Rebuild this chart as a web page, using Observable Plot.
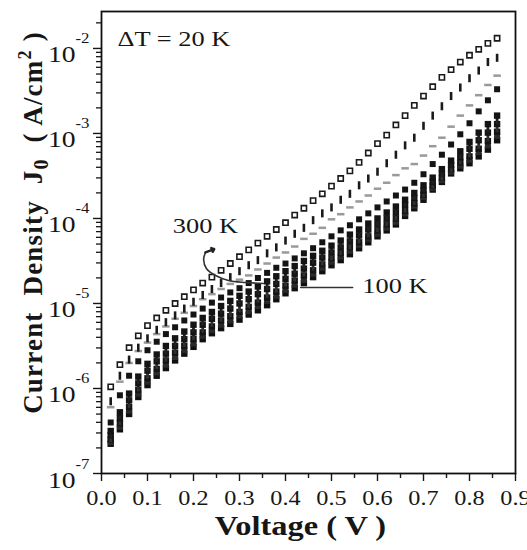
<!DOCTYPE html>
<html><head><meta charset="utf-8">
<script src="https://cdn.jsdelivr.net/npm/d3@7"></script>
<script src="https://cdn.jsdelivr.net/npm/@observablehq/plot@0.6"></script>
<style>
html,body{margin:0;padding:0;background:#fff;}
#chart{width:527px;height:550px;overflow:hidden;}
</style></head><body><div id="chart"></div>
<script>
// ---- data (log10 of current density J0 in A/cm^2) ----
const voltages = [0.02,0.04,0.06,0.08,0.10,0.12,0.14,0.16,0.18,0.20,0.22,0.24,0.26,0.28,0.30,0.32,0.34,0.36,0.38,0.40,0.42,0.44,0.46,0.48,0.50,0.52,0.54,0.56,0.58,0.60,0.62,0.64,0.66,0.68,0.70,0.72,0.74,0.76,0.78,0.80,0.82,0.84,0.86];
const temperatures = [300,280,260,240,220,200,180,160,140,120,100];
const logJ_300K = [-5.98,-5.72,-5.52,-5.38,-5.26,-5.17,-5.08,-5.00,-4.92,-4.84,-4.76,-4.69,-4.61,-4.53,-4.45,-4.37,-4.29,-4.21,-4.13,-4.05,-3.96,-3.88,-3.79,-3.71,-3.62,-3.53,-3.44,-3.34,-3.23,-3.12,-3.02,-2.90,-2.79,-2.67,-2.56,-2.45,-2.34,-2.25,-2.16,-2.08,-2.01,-1.94,-1.88];
const logJ_280K = [-6.15,-5.85,-5.66,-5.52,-5.41,-5.31,-5.22,-5.14,-5.06,-4.98,-4.90,-4.83,-4.76,-4.69,-4.62,-4.55,-4.49,-4.41,-4.34,-4.26,-4.18,-4.11,-4.02,-3.94,-3.87,-3.78,-3.71,-3.61,-3.53,-3.45,-3.35,-3.25,-3.14,-3.05,-2.91,-2.79,-2.68,-2.56,-2.46,-2.35,-2.26,-2.16,-2.11];
const logJ_260K = [-6.22,-5.92,-5.70,-5.56,-5.46,-5.36,-5.27,-5.18,-5.11,-5.03,-4.95,-4.89,-4.83,-4.77,-4.72,-4.67,-4.60,-4.53,-4.46,-4.40,-4.33,-4.24,-4.18,-4.11,-4.01,-3.95,-3.87,-3.80,-3.73,-3.65,-3.58,-3.49,-3.41,-3.36,-3.26,-3.15,-3.05,-2.92,-2.79,-2.67,-2.55,-2.43,-2.32];
const logJ_240K = [-6.40,-6.08,-5.85,-5.68,-5.55,-5.45,-5.36,-5.28,-5.20,-5.13,-5.06,-4.99,-4.93,-4.87,-4.82,-4.76,-4.70,-4.64,-4.58,-4.53,-4.47,-4.41,-4.35,-4.28,-4.21,-4.14,-4.08,-4.01,-3.94,-3.87,-3.80,-3.73,-3.66,-3.58,-3.48,-3.36,-3.25,-3.13,-3.01,-2.88,-2.74,-2.61,-2.48];
const logJ_220K = [-6.50,-6.28,-6.06,-5.86,-5.71,-5.60,-5.50,-5.41,-5.33,-5.25,-5.17,-5.10,-5.03,-4.97,-4.91,-4.86,-4.80,-4.74,-4.68,-4.62,-4.56,-4.50,-4.44,-4.38,-4.32,-4.26,-4.19,-4.13,-4.06,-4.00,-3.93,-3.86,-3.78,-3.70,-3.61,-3.52,-3.42,-3.32,-3.21,-3.10,-2.99,-2.89,-2.79];
const logJ_200K = [-6.53,-6.31,-6.10,-5.90,-5.75,-5.64,-5.54,-5.45,-5.37,-5.29,-5.21,-5.14,-5.07,-5.02,-4.96,-4.91,-4.85,-4.79,-4.73,-4.66,-4.60,-4.54,-4.48,-4.42,-4.36,-4.30,-4.23,-4.17,-4.10,-4.04,-3.97,-3.90,-3.81,-3.73,-3.64,-3.54,-3.45,-3.35,-3.24,-3.14,-3.04,-2.94,-2.84];
const logJ_180K = [-6.55,-6.35,-6.14,-5.94,-5.79,-5.68,-5.59,-5.50,-5.42,-5.34,-5.25,-5.18,-5.12,-5.06,-5.00,-4.95,-4.89,-4.83,-4.77,-4.71,-4.65,-4.59,-4.52,-4.46,-4.40,-4.34,-4.27,-4.20,-4.13,-4.07,-4.00,-3.93,-3.84,-3.76,-3.67,-3.57,-3.47,-3.37,-3.28,-3.18,-3.08,-2.99,-2.89];
const logJ_160K = [-6.58,-6.38,-6.18,-5.98,-5.83,-5.72,-5.63,-5.54,-5.46,-5.38,-5.29,-5.22,-5.16,-5.11,-5.05,-5.00,-4.94,-4.88,-4.82,-4.75,-4.69,-4.63,-4.56,-4.50,-4.44,-4.38,-4.31,-4.24,-4.17,-4.11,-4.04,-3.97,-3.88,-3.79,-3.70,-3.59,-3.50,-3.40,-3.31,-3.23,-3.13,-3.04,-2.93];
const logJ_140K = [-6.60,-6.41,-6.22,-6.02,-5.88,-5.77,-5.67,-5.58,-5.50,-5.42,-5.34,-5.27,-5.20,-5.15,-5.10,-5.04,-4.99,-4.93,-4.86,-4.79,-4.73,-4.67,-4.61,-4.54,-4.47,-4.41,-4.34,-4.28,-4.21,-4.14,-4.07,-4.00,-3.91,-3.82,-3.72,-3.61,-3.52,-3.42,-3.34,-3.27,-3.18,-3.09,-2.98];
const logJ_120K = [-6.63,-6.45,-6.26,-6.06,-5.92,-5.81,-5.72,-5.63,-5.55,-5.47,-5.38,-5.31,-5.25,-5.20,-5.14,-5.09,-5.03,-4.97,-4.91,-4.84,-4.78,-4.72,-4.65,-4.58,-4.51,-4.45,-4.38,-4.31,-4.24,-4.18,-4.11,-4.04,-3.94,-3.85,-3.75,-3.64,-3.55,-3.45,-3.38,-3.31,-3.22,-3.14,-3.03];
const logJ_100K = [-6.65,-6.48,-6.30,-6.10,-5.96,-5.85,-5.76,-5.67,-5.59,-5.51,-5.42,-5.35,-5.29,-5.24,-5.19,-5.13,-5.08,-5.02,-4.95,-4.88,-4.82,-4.76,-4.69,-4.62,-4.55,-4.49,-4.42,-4.35,-4.28,-4.21,-4.14,-4.07,-3.97,-3.88,-3.78,-3.66,-3.57,-3.47,-3.41,-3.35,-3.27,-3.19,-3.08];

// ticks
const xTicks = [0.0,0.1,0.2,0.3,0.4,0.5,0.6,0.7,0.8,0.9];
const xMinorTicks = [0.05,0.15,0.25,0.35,0.45,0.55,0.65,0.75,0.85];
const yTicks = [1e-7,1e-6,1e-5,1e-4,1e-3,1e-2];

// annotations
const deltaTLabel = "ΔT = 20 K";
const hotLabel = "300 K";
const coldLabel = "100 K";
const arrowV = [0.352,0.313,0.276,0.248,0.228,0.222,0.226];
const arrowLogJ = [-4.765,-4.753,-4.729,-4.671,-4.588,-4.482,-4.400];
const arrowTip = {V: 0.245, logJ: -4.360};
const leaderV = [0.433,0.546];
const leaderLogJ = [-4.812,-4.812];

// ---- build ----
const logJ = {300:logJ_300K,280:logJ_280K,260:logJ_260K,240:logJ_240K,220:logJ_220K,200:logJ_200K,180:logJ_180K,160:logJ_160K,140:logJ_140K,120:logJ_120K,100:logJ_100K};
const rows = temperatures.flatMap(T => voltages.map((V,i) => ({V, J: Math.pow(10, logJ[T][i]), T})));

const yMinorTicks = [];
for (const d of yTicks) for (let k = 2; k <= 9; k++) { const v = k*d; if (v < 0.0272) yMinorTicks.push(v); }

const sym = {
  square: {draw(c, size){ const s = Math.sqrt(size/Math.PI); c.rect(-s,-s,2*s,2*s); }},
  vbar:   {draw(c, size){ const s = Math.sqrt(size/Math.PI); c.rect(-0.42*s,-1.3*s,0.84*s,2.6*s); }},
  hdash:  {draw(c, size){ const s = Math.sqrt(size/Math.PI); c.rect(-1.25*s,-0.42*s,2.5*s,0.84*s); }}
};
const style = {
  300:{shape:"square", r:2.6, fill:"#fff", stroke:"#1a1a1a", sw:1.6},
  280:{shape:"vbar", r:3.1, fill:"#1a1a1a"},
  260:{shape:"hdash", r:3, fill:"#9a9a9a"},
  240:{shape:"square", r:3.0, fill:"#141414"},
  220:{shape:"square", r:3.2, fill:"#141414"},
  200:{shape:"vbar", r:3.4, fill:"#202020"},
  180:{shape:"square", r:3.2, fill:"#141414"},
  160:{shape:"vbar", r:3.4, fill:"#303030"},
  140:{shape:"square", r:3.2, fill:"#141414"},
  120:{shape:"square", r:3.0, fill:"#2a2a2a"},
  100:{shape:"square", r:3.2, fill:"#101010"}
};

const dotMarks = temperatures.slice().reverse().map(T => {
  const s = style[T];
  return Plot.dot(rows.filter(d => d.T === T), {
    x: "V", y: "J", symbol: sym[s.shape], r: s.r,
    fill: s.fill, stroke: s.stroke || "none", strokeWidth: s.sw || 0
  });
});

const arrowPath = arrowV.map((v,i) => ({V: v, J: Math.pow(10, arrowLogJ[i])}));
const leader = leaderV.map((v,i) => ({V: v, J: Math.pow(10, leaderLogJ[i])}));

const chart = Plot.plot({
  width: 527, height: 550,
  marginLeft: 101, marginRight: 12, marginTop: 11, marginBottom: 77,
  style: {fontFamily: "'Liberation Serif','Times New Roman',serif", fontSize: "22px", color: "#161616", background: "#fff", overflow: "visible"},
  x: {domain: [0, 0.9]},
  y: {type: "log", domain: [1e-7, 0.0272]},
  marks: [
    Plot.axisX({ticks: xMinorTicks, tickSize: 5, tickFormat: () => "", label: null, strokeWidth: 1.4}),
    Plot.axisX({ticks: xTicks, tickSize: 8, tickPadding: 8, tickFormat: d => d.toFixed(1), label: null, fontSize: 22, strokeWidth: 1.4}),
    Plot.axisY({ticks: yMinorTicks, tickSize: 5, tickFormat: () => "", label: null, strokeWidth: 1.3}),
    Plot.axisY({ticks: yTicks, tickSize: 8, tickPadding: 4, tickFormat: d => "10^" + Math.round(Math.log10(d)), label: null, fontSize: 23, strokeWidth: 1.4}),
    ...dotMarks,
    Plot.line(arrowPath, {x: "V", y: "J", curve: "catmull-rom", stroke: "#333", strokeWidth: 1.6}),
    Plot.arrow([{x1: arrowV[arrowV.length-1], y1: Math.pow(10, arrowLogJ[arrowLogJ.length-1]), x2: arrowTip.V, y2: Math.pow(10, arrowTip.logJ)}],
      {x1: "x1", y1: "y1", x2: "x2", y2: "y2", stroke: "#222", strokeWidth: 2.4, headLength: 8, headAngle: 80}),
    Plot.line(leader, {x: "V", y: "J", stroke: "#333", strokeWidth: 1.5}),
    Plot.text([deltaTLabel], {x: 0.035, y: Math.pow(10,-1.888), text: d => d, textAnchor: "start", fontSize: 22}),
    Plot.text([hotLabel], {x: 0.155, y: Math.pow(10,-4.088), text: d => d, textAnchor: "start", fontSize: 22}),
    Plot.text([coldLabel], {x: 0.567, y: Math.pow(10,-4.788), text: d => d, textAnchor: "start", fontSize: 22}),
    Plot.text(["Voltage ( V )"], {frameAnchor: "bottom", textAnchor: "middle", lineAnchor: "middle", dx: -8, dy: 53, text: d => d, fontWeight: "bold", fontSize: 27}),
    Plot.text(["Current Density J0 ( A/cm2 )"], {frameAnchor: "left", textAnchor: "middle", lineAnchor: "middle", rotate: -90, dx: -68, dy: -20, text: d => d, fontWeight: "bold", fontSize: 27}),
    Plot.frame({stroke: "#111", strokeWidth: 1.8})
  ]
});
document.getElementById("chart").appendChild(chart);

// ---- text refinements: superscripts / subscripts, wide serif look ----
const NS = "http://www.w3.org/2000/svg";
function tspan(parent, txt, attrs) {
  const t = document.createElementNS(NS, "tspan");
  t.textContent = txt;
  for (const k in attrs) t.setAttribute(k, attrs[k]);
  parent.appendChild(t);
  return t;
}
chart.querySelectorAll("text").forEach(t => {
  const s = t.textContent;
  const m = s.match(/^10\^(-?\d+)$/);
  if (m) {
    t.textContent = "";
    t.removeAttribute("dy");
    t.setAttribute("y", "14");
    tspan(t, "10", {});
    tspan(t, m[1], {dy: "-19", "font-size": "14"});
  } else if (s === "Current Density J0 ( A/cm2 )") {
    t.textContent = "";
    t.setAttribute("letter-spacing", "1.2");
    tspan(t, "Current  Density  J", {});
    tspan(t, "0", {dy: "6", "font-size": "20"});
    tspan(t, "  ( A/cm", {dy: "-6"});
    tspan(t, "2", {dy: "-11", "font-size": "18"});
    tspan(t, " )", {dy: "11"});
  }
});
chart.querySelectorAll("text").forEach(t => {
  const s = t.textContent;
  if (s === "" || s.startsWith("Current")) return;
  const w = t.getComputedTextLength();
  const f = /^\d\.\d$/.test(s) ? 1.1 : 1.2;
  if (w > 0) { t.setAttribute("textLength", (w * f).toFixed(1)); t.setAttribute("lengthAdjust", "spacingAndGlyphs"); }
});
</script></body></html>
